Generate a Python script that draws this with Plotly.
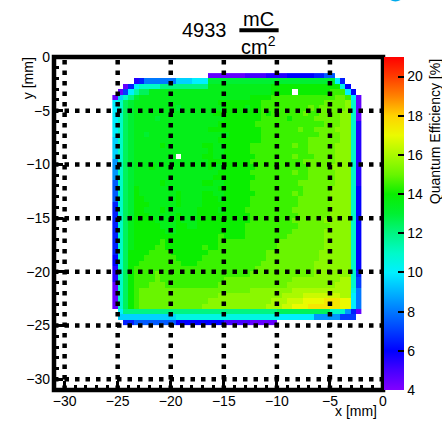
import plotly.graph_objects as go

# ---------------------------------------------------------------------------
# Quantum-efficiency map, 0.5 mm x 0.5 mm bins.
# Each row string covers x from -25.5 mm to -2.0 mm (47 bins);
# rows run from the top (y = -1.5 mm) down to y = -25.0 mm.
# One character per bin, '.' = empty bin.
# ---------------------------------------------------------------------------
CODE_CHARS = "abcdefghijklmnopqrstuvwxyzA"
CODE_VALUES = [4.5, 5.0, 5.5, 6.0, 6.5, 7.0, 7.5, 8.0, 8.5, 9.0, 9.5, 10.0, 10.5,
               11.0, 11.5, 12.0, 12.5, 13.0, 13.5, 14.0, 14.5, 15.0, 15.5, 16.0,
               16.5, 17.0, 17.5]

QE_ROWS = [
    "..." ".." "........" ".....aaa" "aaaabbbbc" "cccddddd" "eegg.." "...",
    "..." ".c" "ehhhhhhk" "kklllrrr" "rrrrrrrrr" "rrrrrrrr" "rrrrle" "...",
    "..a" "el" "nnnnpppp" "pppppsss" "sssssssss" "tttttttt" "tttttm" "d..",
    ".af" "lo" "qqssssss" "ssssssss" "sssssssss" "tttt.ttt" "tttuuu" "ld.",
    "akn" "pr" "ssssssss" "ssssssss" "ssssstttt" "uuuuuuuu" "uuuuvv" "ula",
    "lnq" "rs" "ssssssss" "ssssssst" "tttttttuu" "uuuuuuuu" "uuvvvv" "wna",
    "lnq" "rs" "sssssssr" "ssssssss" "ttttsttuu" "uuuuuuuv" "uvvvvv" "wna",
    "lnq" "rs" "ssssssss" "sssssstt" "tttttttut" "uuuuuuvu" "uvvvvw" "wna",
    "lnq" "rs" "sssrssss" "ssssssss" "tttttttuu" "uuutuuuu" "vvvvvw" "wna",
    "lnq" "rs" "ssssssss" "ssssssst" "ttttttuuu" "uuuuuuuu" "uuvvvw" "wnc",
    "lnq" "rs" "ssssssss" "sssssttt" "tttttttuu" "uuuuuvuu" "vvvvww" "wnc",
    "lnq" "rs" "srssssss" "ssssssss" "sttttttuu" "uuuuuuuu" "uvvvvw" "wnc",
    "knq" "rs" "ssssssss" "ssssssst" "tttttttuu" "uuuuuuuv" "vvvvvw" "wnc",
    "knq" "rs" "sssstsss" "ssssttss" "tttttuuuu" "uuuuvuuv" "vvvvww" "wnc",
    "knq" "rs" "ssssssss" "ssssstss" "tttttuuuu" "uuuuuuuv" "vvvvww" "wnc",
    "knq" "rs" "sssssss." "ssssttss" "ttttttuuu" "uuuuvuuu" "vvvvww" "wnc",
    "inq" "rs" "ssssssss" "sssssttt" "tttttuuuu" "uuuuuuvv" "vvvvww" "wnc",
    "inq" "rs" "sstsssss" "ssssstss" "ttttttuuu" "uuuuuuuv" "vvvwww" "wnc",
    "inq" "rs" "ssssssss" "ssssssst" "tttttuuuu" "uuuuvuuv" "vvvvww" "wnc",
    "inq" "rs" "ssssssss" "sssssstt" "ttttttuuu" "uuuuuuuv" "vvvvww" "wnc",
    "gnq" "rs" "sssstsss" "ssssttss" "tttttuuuu" "uuuuuvvv" "vvvvww" "wnc",
    "gnq" "rt" "ssssssss" "ssssssst" "tttttuuuu" "uuuuuuvv" "vvvwww" "wnd",
    "gnq" "rt" "ssssssst" "ssssttss" "ttttttuuu" "uuuuvuvv" "vvvwww" "wnd",
    "gnq" "rt" "tsssssst" "ssssttts" "tttttuuuu" "uuuuuvvv" "vvvwww" "wnd",
    "enq" "rt" "ttssssst" "sssstttt" "tttttuuuu" "uuuuuvvv" "vvvwww" "wnd",
    "enq" "rt" "tssstsss" "ssstttts" "ttttuuuuu" "uuuuvvvv" "vvvwww" "wnd",
    "enq" "rt" "ttssssst" "sssttttt" "tttttuuuu" "uuuuuvvv" "vvvwww" "wnd",
    "enq" "st" "tttsssst" "sssttttt" "tttttuuuu" "uuuuvvvv" "vvwwww" "wnd",
    "enq" "st" "ttttssst" "tssttttt" "ttttuuuuu" "uuuuuvvv" "vvvwww" "wnd",
    "enq" "st" "tttttsst" "tttttttt" "ttttuuuuu" "uuuuvvvv" "vvwwww" "wnd",
    "enq" "st" "tttttttt" "tttttttu" "ttttuuuuu" "uuuvvvvv" "vvwwww" "wnd",
    "enq" "st" "ttttuttt" "tttttttu" "uuuuuuuuu" "uvvvvvvv" "vvwwww" "wnd",
    "enq" "st" "tttuuttt" "ttttuttu" "uuuuuuuuu" "uvvvvvvv" "vvwwww" "wnd",
    "enq" "tt" "ttuuuutt" "tttttuuu" "uuuuuuuuv" "vvvvvvvv" "vwwwww" "wnd",
    "dnq" "tt" "tuuuuuut" "ttttuuuu" "uuuuuuuuv" "vvvvvvvv" "vwwwww" "wnd",
    "dnq" "tt" "uuuuuuuu" "tttuuuuu" "uuuuuuuvv" "vvvvvvvv" "wwwwww" "wnd",
    "cnq" "tu" "uuuuuuuu" "uuuuuuuu" "uuuuuuvvv" "vvvvvvvv" "wwwwww" "wnd",
    "cnq" "tu" "uuuvuuuu" "uuuuuuuu" "uuuuuvvvv" "vvvvvvvv" "wwwwww" "wne",
    "cnq" "tu" "uuuvuuuu" "uuuuuuuu" "vvvvvvvvv" "vvvvwwww" "wwwwwx" "xnf",
    "anq" "tu" "uuvvvuuu" "uuuuuuuv" "vvvvvvvvv" "vvvwwwww" "wwwwxx" "xnf",
    "anq" "tu" "vvvvvvvv" "vvvvvvvv" "vvvvvwwww" "wwwwxxxx" "xxxxxx" "xmh",
    "anq" "tu" "vvvvvvvv" "vvvvvvvw" "wwwwwwwww" "wwxxxxyy" "yyyyyx" "xlh",
    "anq" "tu" "vvvvvvvv" "vvvvvwww" "wwwwwwwww" "xxxyyyzz" "zzAAAz" "zlh",
    "anq" "tu" "vvvvvvvv" "vvvvwwww" "wwwwwwwwx" "xxyyzzzA" "AAAAAz" "zlh",
    ".lp" "pp" "pppppppp" "pppppppp" "ppppppppp" "pqqqqqqq" "qqqnnn" "iea",
    ".kk" "kk" "kkkkkkkm" "mmmmmmmm" "mmmmmmmmm" "mlllllll" "iiiiif" "ff.",
    "..e" "eg" "gggggggd" "dddddddd" "bbbbbaaaa" "a......." "......" "...",
]

BIN_MM = 0.5
X_FIRST_EDGE = -25.5
Y_TOP_EDGE = -1.5
N_COLS = 47

# axis / colour-scale settings
AXIS_RANGE = [-31, 0]
AXIS_TICKS = [-30, -25, -20, -15, -10, -5, 0]
GRID_TICKS = [-30, -25, -20, -15, -10, -5]
Z_MIN, Z_MAX = 4, 21
CBAR_TICKS = [4, 6, 8, 10, 12, 14, 16, 18, 20]
DOSE_TEXT = "4933"

for i, row in enumerate(QE_ROWS):
    if len(row) != N_COLS:
        raise ValueError(f"row {i} has {len(row)} bins")

value_of = dict(zip(CODE_CHARS, CODE_VALUES))
n_rows = len(QE_ROWS)
y_bottom_edge = Y_TOP_EDGE - BIN_MM * n_rows

x_centers = [X_FIRST_EDGE + BIN_MM * (i + 0.5) for i in range(N_COLS)]
y_centers = [y_bottom_edge + BIN_MM * (j + 0.5) for j in range(n_rows)]
z = [[value_of.get(ch) for ch in row] for row in reversed(QE_ROWS)]

# rainbow palette: violet -> blue -> cyan -> green -> yellow -> red
def frac(v):
    return (v - Z_MIN) / (Z_MAX - Z_MIN)

palette = [
    (4, "rgb(130,0,255)"), (5, "rgb(70,0,255)"), (6, "rgb(0,0,255)"),
    (8, "rgb(0,120,255)"), (10, "rgb(0,240,255)"), (11, "rgb(0,250,200)"),
    (12, "rgb(0,245,130)"), (13, "rgb(0,240,50)"), (14, "rgb(10,238,0)"),
    (15, "rgb(105,245,0)"), (16, "rgb(170,250,0)"), (17, "rgb(235,250,0)"),
    (18, "rgb(255,210,0)"), (19, "rgb(255,130,0)"), (20, "rgb(255,60,0)"),
    (21, "rgb(255,0,0)"),
]
colorscale = [[frac(v), c] for v, c in palette]

# page geometry (pixels)
W, H = 442, 422
M_L, M_R, M_T, M_B = 54, 57, 57, 32
PW, PH = W - M_L - M_R, H - M_T - M_B

def px(xp):
    return (xp - M_L) / PW

def py(yp):
    return (H - M_B - yp) / PH

FONT = "Liberation Sans, Arial, sans-serif"

fig = go.Figure()
fig.add_trace(go.Heatmap(
    x=x_centers, y=y_centers, z=z,
    colorscale=colorscale, zmin=Z_MIN, zmax=Z_MAX,
    hoverongaps=False,
    colorbar=dict(
        thickness=20, thicknessmode="pixels",
        len=1, lenmode="fraction", y=0.5, yanchor="middle", ypad=0,
        x=px(386), xanchor="left", xpad=0,
        outlinewidth=0,
        tickvals=CBAR_TICKS, ticks="inside", ticklen=6, tickwidth=2,
        tickangle=0,
        tickcolor="black", tickfont=dict(family=FONT, size=14, color="black"),
    ),
))

axis_common = dict(
    range=AXIS_RANGE, tickvals=AXIS_TICKS, ticks="inside", ticklen=9,
    tickwidth=2.5, tickcolor="black", showgrid=False, zeroline=False,
    showline=False, tickangle=0,
    tickfont=dict(family=FONT, size=14, color="black"),
    minor=dict(ticks="inside", ticklen=5, tickwidth=2.5, dtick=1, tick0=0,
               tickcolor="black", showgrid=False),
    fixedrange=True,
)

DOT = dict(color="black", width=4.5, dash="4.5px,6px")

shapes = []
# dotted grid drawn over the map
for v in GRID_TICKS:
    shapes.append(dict(type="line", xref="x", yref="paper", x0=v, x1=v, y0=0, y1=1,
                       line=DOT, layer="above"))
    shapes.append(dict(type="line", xref="paper", yref="y", x0=0, x1=1, y0=v, y1=v,
                       line=DOT, layer="above"))
# frame
shapes.append(dict(type="rect", xref="paper", yref="paper", x0=0, x1=1, y0=0, y1=1,
                   line=dict(color="black", width=4.5), layer="above"))
# fraction bar of the dose unit
shapes.append(dict(type="line", xref="paper", yref="paper",
                   x0=px(240.5), x1=px(280), y0=py(30.3), y1=py(30.3),
                   line=dict(color="black", width=4)))
# small badge cut by the top edge
shapes.append(dict(type="circle", xref="paper", yref="paper",
                   x0=px(388), x1=px(407), y0=py(1.5), y1=py(-17.5),
                   fillcolor="rgb(0,170,235)", line=dict(width=0)))

annotations = [
    dict(text=DOSE_TEXT, x=px(205.5), y=py(30), xref="paper", yref="paper",
         xanchor="center", yanchor="middle", showarrow=False,
         font=dict(family=FONT, size=20, color="black")),
    dict(text="mC", x=px(259.5), y=py(18.5), xref="paper", yref="paper",
         xanchor="center", yanchor="middle", showarrow=False,
         font=dict(family=FONT, size=20, color="black")),
    dict(text="cm<sup>2</sup>", x=px(259.5), y=py(46), xref="paper", yref="paper",
         xanchor="center", yanchor="middle", showarrow=False,
         font=dict(family=FONT, size=20, color="black")),
    dict(text="x [mm]", x=px(381), y=py(411), xref="paper", yref="paper",
         xanchor="right", yanchor="middle", showarrow=False,
         font=dict(family=FONT, size=14, color="black")),
    dict(text="y [mm]", x=px(28), y=py(55), xref="paper", yref="paper",
         xanchor="center", yanchor="top", textangle=-90, showarrow=False,
         font=dict(family=FONT, size=14, color="black")),
    dict(text="Quantum Efficiency [%]", x=px(437), y=py(57), xref="paper", yref="paper",
         xanchor="center", yanchor="top", textangle=-90, showarrow=False,
         font=dict(family=FONT, size=14, color="black")),
]

fig.update_layout(
    width=W, height=H,
    margin=dict(l=M_L, r=M_R, t=M_T, b=M_B, pad=0),
    paper_bgcolor="white", plot_bgcolor="white",
    xaxis=dict(axis_common, ticklabelstandoff=1),
    yaxis=dict(axis_common, ticklabelstandoff=3),
    shapes=shapes, annotations=annotations,
    showlegend=False,
)

fig.write_html("out.html")
